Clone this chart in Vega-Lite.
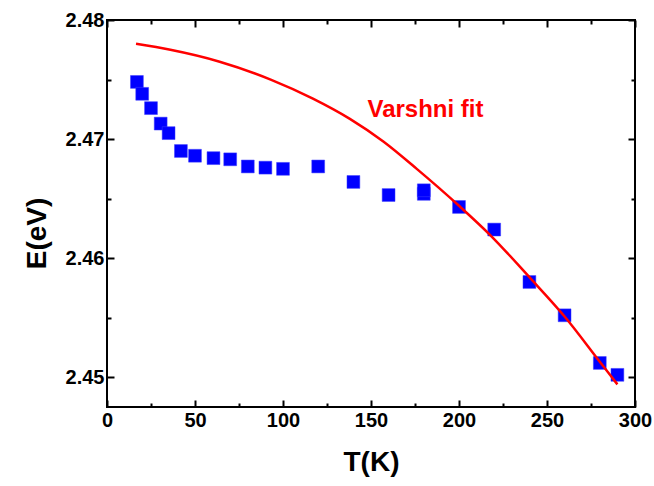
{
  "$schema": "https://vega.github.io/schema/vega-lite/v6.json",
  "autosize": "none",
  "width": 528,
  "height": 387,
  "padding": {"left": 107, "top": 20, "right": 19, "bottom": 79},
  "background": "white",
  "config": {
    "view": {"stroke": "black", "strokeWidth": 2},
    "font": "Liberation Sans",
    "axis": {
      "grid": false,
      "domain": false,
      "tickColor": "black",
      "tickWidth": 2,
      "labelFont": "Liberation Sans",
      "labelFontWeight": "bold",
      "labelFontSize": 20,
      "labelColor": "black",
      "titleFont": "Liberation Sans",
      "titleFontWeight": "bold",
      "titleFontSize": 28,
      "titleColor": "black"
    }
  },
  "datasets": {
    "measured": [
      {"T": 17, "E": 2.4748},
      {"T": 20, "E": 2.4738},
      {"T": 25, "E": 2.4726},
      {"T": 30.5, "E": 2.4713},
      {"T": 35, "E": 2.4705},
      {"T": 42, "E": 2.4690},
      {"T": 50, "E": 2.4686},
      {"T": 60.5, "E": 2.4684},
      {"T": 70, "E": 2.4683},
      {"T": 80, "E": 2.4677},
      {"T": 90, "E": 2.4676},
      {"T": 100, "E": 2.4675},
      {"T": 120, "E": 2.4677},
      {"T": 140, "E": 2.4664},
      {"T": 160, "E": 2.4653},
      {"T": 180, "E": 2.4654},
      {"T": 180, "E": 2.4657},
      {"T": 200, "E": 2.4643},
      {"T": 220, "E": 2.4624},
      {"T": 240, "E": 2.4580},
      {"T": 260, "E": 2.4552},
      {"T": 280, "E": 2.4512},
      {"T": 290, "E": 2.4502}
    ],
    "fit": [
      {"T": 16.5, "E": 2.4780},
      {"T": 36, "E": 2.4775},
      {"T": 64, "E": 2.4765},
      {"T": 93, "E": 2.4750},
      {"T": 117, "E": 2.4734},
      {"T": 138, "E": 2.4717},
      {"T": 157, "E": 2.4698},
      {"T": 176, "E": 2.4675},
      {"T": 200, "E": 2.4644},
      {"T": 218, "E": 2.4619},
      {"T": 240, "E": 2.4584},
      {"T": 260, "E": 2.4551},
      {"T": 280, "E": 2.4513},
      {"T": 290, "E": 2.4494}
    ],
    "label": [
      {"T": 148, "E": 2.4724, "text": "Varshni fit"}
    ]
  },
  "resolve": {"axis": {"x": "independent", "y": "independent"}},
  "layer": [
    {
      "data": {"name": "measured"},
      "mark": {"type": "square", "size": 165, "fill": "#0000ff", "opacity": 1, "stroke": "#3d3dff", "strokeWidth": 0.5},
      "encoding": {
        "x": {"field": "T", "type": "quantitative", "scale": {"domain": [0, 300], "nice": false, "zero": false},
          "axis": {"title": "T(K)", "orient": "bottom", "values": [0, 50, 100, 150, 200, 250, 300], "tickSize": -7, "labelPadding": 10, "titlePadding": 18, "labelFlush": false}},
        "y": {"field": "E", "type": "quantitative", "scale": {"domain": [2.4475, 2.48], "nice": false, "zero": false},
          "axis": {"title": "E(eV)", "orient": "left", "values": [2.45, 2.46, 2.47, 2.48], "format": ".2f", "tickSize": -7, "labelPadding": 10, "titlePadding": 14, "titleY": 213, "labelFlush": false}}
      }
    },
    {
      "data": {"name": "fit"},
      "mark": {"type": "line", "color": "#ff0000", "strokeWidth": 2.5, "interpolate": "monotone"},
      "encoding": {
        "x": {"field": "T", "type": "quantitative", "axis": {"orient": "top", "values": [0, 50, 100, 150, 200, 250, 300], "labels": false, "title": null, "tickSize": -7}},
        "y": {"field": "E", "type": "quantitative", "axis": {"orient": "right", "values": [2.45, 2.46, 2.47, 2.48], "labels": false, "title": null, "tickSize": -7}}
      }
    },
    {
      "data": {"name": "label"},
      "mark": {"type": "text", "align": "left", "baseline": "middle", "color": "#ff0000", "fontSize": 24, "fontWeight": "bold", "font": "Liberation Sans"},
      "encoding": {
        "x": {"field": "T", "type": "quantitative", "axis": {"orient": "bottom", "values": [25, 75, 125, 175, 225, 275], "labels": false, "title": null, "tickSize": -4}},
        "y": {"field": "E", "type": "quantitative", "axis": {"orient": "left", "values": [2.455, 2.465, 2.475], "labels": false, "title": null, "tickSize": -4}},
        "text": {"field": "text"}
      }
    },
    {
      "data": {"name": "fit"},
      "mark": {"type": "point", "opacity": 0},
      "encoding": {
        "x": {"field": "T", "type": "quantitative", "axis": {"orient": "top", "values": [25, 75, 125, 175, 225, 275], "labels": false, "title": null, "tickSize": -4}},
        "y": {"field": "E", "type": "quantitative", "axis": {"orient": "right", "values": [2.455, 2.465, 2.475], "labels": false, "title": null, "tickSize": -4}}
      }
    }
  ]
}
